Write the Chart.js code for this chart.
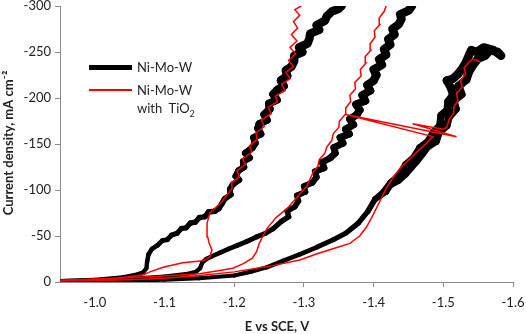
<!DOCTYPE html>
<html>
<head>
<meta charset="utf-8">
<script src="https://cdn.jsdelivr.net/npm/chart.js@4.4.0/dist/chart.umd.min.js"></script>
<style>
  html, body { margin: 0; padding: 0; background: #fff; }
  #wrap { position: relative; width: 526px; height: 334px; }
  .lg-line { position: absolute; left: 89px; width: 43px; }
  .lg-text { position: absolute; left: 137px; font: 13px Lato, sans-serif; color: #222; line-height: 16px; white-space: nowrap; }
</style>
</head>
<body>
<div id="wrap">
  <canvas id="chart" width="526" height="334"></canvas>
  <div class="lg-line" style="top:65px; height:5px; background:#000"></div>
  <div class="lg-text" style="top:59px">Ni-Mo-W</div>
  <div class="lg-line" style="top:89px; height:2px; background:#ff0000"></div>
  <div class="lg-text" style="top:82px">Ni-Mo-W</div>
  <div class="lg-text" style="top:100px">with&nbsp; TiO<sub style="font-size:9px">2</sub></div>
</div>
<script>
// --- DATI ---
// potential E (V vs SCE) and current density J (mA cm-2), one pair of arrays per sweep

// Ni-Mo-W (black)
const blackE1 = [-0.950, -1.000, -1.040, -1.060, -1.070, -1.074, -1.075, -1.077, -1.082, -1.090,
  -1.097, -1.104, -1.110, -1.118, -1.124, -1.131, -1.137, -1.144, -1.150, -1.158,
  -1.163, -1.172, -1.178, -1.183,
  -1.186, -1.195, -1.194, -1.198, -1.207, -1.202, -1.206, -1.214, -1.213, -1.222,
  -1.216, -1.226, -1.230, -1.228, -1.238, -1.234, -1.236, -1.247, -1.243, -1.251,
  -1.250, -1.261, -1.256, -1.262, -1.271, -1.267, -1.276, -1.274, -1.282, -1.286,
  -1.286, -1.298, -1.293, -1.305, -1.308, -1.309, -1.322, -1.318, -1.330, -1.333,
  -1.340, -1.350, -1.354];
const blackJ1 = [-1, -2.5, -5, -8, -11, -15, -22, -30, -36, -40,
  -45, -46, -51, -53, -58, -59, -64, -65, -70, -71,
  -76, -77, -80, -86,
  -90, -95, -101, -106, -111, -115, -121, -125, -131, -135,
  -140, -146, -151, -157, -161, -167, -172, -176, -182, -188,
  -194, -198, -204, -209, -213, -219, -224, -230, -234, -240,
  -246, -250, -255, -259, -265, -270, -274, -279, -284, -289,
  -294, -297, -300];

const blackE2 = [-0.950, -1.000, -1.050, -1.100, -1.130, -1.145, -1.151, -1.154, -1.160, -1.168,
  -1.180, -1.192, -1.205, -1.218, -1.232, -1.245, -1.256,
  -1.268, -1.278, -1.276, -1.287, -1.292, -1.290, -1.302, -1.300, -1.312, -1.318,
  -1.316, -1.329, -1.326, -1.338, -1.345, -1.343, -1.356, -1.352, -1.365, -1.360,
  -1.371, -1.366, -1.376, -1.380, -1.375, -1.388, -1.384, -1.395, -1.391, -1.400,
  -1.404, -1.400, -1.412, -1.408, -1.418, -1.415, -1.424, -1.421, -1.430, -1.427,
  -1.436, -1.440, -1.438, -1.450, -1.455];
const blackJ2 = [-1, -2, -3.5, -6, -8.5, -11, -15, -21, -25, -28,
  -32, -36, -40, -44, -49, -53, -58,
  -66, -71, -77, -82, -88, -94, -98, -104, -108, -114,
  -120, -124, -130, -135, -140, -146, -151, -157, -161, -166,
  -171, -177, -182, -187, -193, -197, -203, -208, -214, -219,
  -225, -231, -236, -242, -247, -253, -258, -264, -269, -275,
  -280, -286, -291, -295, -300];

const blackE3 = [-0.950, -1.000, -1.050, -1.100, -1.150, -1.200, -1.223, -1.247, -1.270, -1.294,
  -1.319, -1.342, -1.360, -1.378, -1.392, -1.402,
  -1.418, -1.424, -1.436, -1.446, -1.454, -1.462, -1.470, -1.478, -1.490, -1.494,
  -1.505, -1.508, -1.518, -1.515, -1.526, -1.522, -1.533, -1.537, -1.543, -1.550,
  -1.560, -1.567, -1.578, -1.583,
  -1.572, -1.558, -1.548, -1.540, -1.532, -1.527, -1.521, -1.514, -1.505, -1.511,
  -1.514, -1.507, -1.506, -1.497, -1.495, -1.485, -1.478, -1.466, -1.458, -1.446,
  -1.436, -1.424, -1.414, -1.402];
const blackJ3 = [-0.5, -1, -1.5, -2.5, -4, -7, -11, -16, -23, -30,
  -38, -46, -53, -64, -77, -90,
  -98, -105, -110, -117, -124, -131, -139, -147, -153, -162,
  -170, -179, -188, -197, -204, -213, -220, -229, -236, -243,
  -246, -252, -250, -246,
  -252, -255, -250, -252, -238, -232, -226, -221, -219, -211,
  -203, -196, -187, -181, -170, -162, -153, -146, -136, -128,
  -116, -108, -98, -90];

// Ni-Mo-W with TiO2 (red)
const redE1 = [-0.950, -1.000, -1.032, -1.069, -1.079, -1.098, -1.126, -1.155, -1.165, -1.168,
  -1.164, -1.162, -1.161, -1.161, -1.165, -1.175, -1.183, -1.190,
  -1.197, -1.196, -1.207, -1.204, -1.216, -1.212, -1.225, -1.222, -1.233, -1.231,
  -1.243, -1.239, -1.253, -1.249, -1.262, -1.259, -1.273, -1.268, -1.280, -1.274,
  -1.285, -1.278, -1.288, -1.280, -1.290, -1.282, -1.291, -1.285, -1.294, -1.287, -1.296];
const redJ1 = [-1.5, -3, -4, -7.5, -11, -16, -21, -23, -27, -35,
  -42, -49, -57, -64, -75, -82, -88, -95,
  -102, -108, -114, -121, -128, -134, -141, -148, -155, -162,
  -169, -176, -183, -190, -196, -202, -208, -215, -221, -228,
  -234, -241, -248, -255, -262, -269, -276, -283, -290, -296, -300];

const redE2 = [-0.950, -1.000, -1.050, -1.100, -1.150, -1.175, -1.198, -1.213, -1.226, -1.232,
  -1.236, -1.241, -1.247, -1.260, -1.276, -1.290, -1.304, -1.313,
  -1.320, -1.322, -1.330, -1.333, -1.340, -1.342, -1.350, -1.351, -1.359, -1.360,
  -1.367, -1.366, -1.374, -1.373, -1.382, -1.381, -1.389, -1.388, -1.396, -1.395,
  -1.402, -1.401, -1.409, -1.408, -1.415, -1.418];
const redJ2 = [-2, -3, -4.5, -6.5, -9, -12, -15, -20, -26, -33,
  -42, -50, -58, -70, -80, -92, -104, -119,
  -126, -133, -140, -147, -154, -161, -168, -175, -182, -189,
  -196, -203, -210, -217, -224, -231, -238, -245, -252, -259,
  -266, -273, -280, -287, -294, -300];

const redE3 = [-0.950, -1.000, -1.050, -1.100, -1.150, -1.200, -1.250, -1.294, -1.320, -1.345,
  -1.366, -1.380, -1.390, -1.400, -1.409, -1.419, -1.430, -1.441, -1.452, -1.463,
  -1.473, -1.485, -1.360, -1.519, -1.456, -1.500, -1.505, -1.508, -1.514, -1.515,
  -1.521, -1.519, -1.527, -1.525, -1.532, -1.530, -1.537, -1.542, -1.548, -1.553];
const redJ3 = [-1, -1.5, -2.5, -4, -7, -11, -17, -24, -31, -37,
  -42, -50, -60, -74, -88, -103, -116, -126, -134, -142,
  -149, -158, -182, -158, -172, -166, -168, -176, -183, -190,
  -197, -205, -212, -219, -226, -233, -239, -242, -241, -239];

const xTicks = [-1.0, -1.1, -1.2, -1.3, -1.4, -1.5, -1.6];
const yTicks = [0, -50, -100, -150, -200, -250, -300];


// unisce E e J in punti {x, y}
function toPoints(E, J) {
  return E.map((e, i) => ({ x: e, y: J[i] }));
}

// the black trace gets visibly noisier (wider) as the current grows
function blackWidth(ctx) {
  const j = Math.abs((ctx.p0.parsed.y + ctx.p1.parsed.y) / 2);
  return 4 + Math.min(4.5, j / 50);
}

function blackSet(E, J) {
  return {
    label: "Ni-Mo-W",
    data: toPoints(E, J),
    borderColor: "#000",
    borderWidth: 4,
    segment: { borderWidth: blackWidth },
    borderJoinStyle: "round",
    borderCapStyle: "round",
    order: 2
  };
}

function redSet(E, J) {
  return {
    label: "Ni-Mo-W with TiO2",
    data: toPoints(E, J),
    borderColor: "#ff0000",
    borderWidth: 1.5,
    order: 1
  };
}

// --- TITOLI DEGLI ASSI ---
const axisTitles = {
  id: "axisTitles",
  afterDraw(chart) {
    const c = chart.ctx;
    c.save();
    c.fillStyle = "#222";
    c.font = "bold 13px Lato, sans-serif";
    c.textAlign = "center";
    c.textBaseline = "middle";
    c.fillText("E vs SCE, V", 277, 327);
    c.translate(9, 143);
    c.rotate(-Math.PI / 2);
    c.fillText("Current density, mA cm\u207B\u00B2", 0, 0);
    c.restore();
  }
};

const tickFont = { family: "Lato, sans-serif", size: 13 };

new Chart(document.getElementById("chart"), {
  type: "scatter",
  data: {
    datasets: [
      blackSet(blackE1, blackJ1),
      blackSet(blackE2, blackJ2),
      blackSet(blackE3, blackJ3),
      redSet(redE1, redJ1),
      redSet(redE2, redJ2),
      redSet(redE3, redJ3)
    ]
  },
  options: {
    responsive: false,
    animation: false,
    devicePixelRatio: 1,
    showLine: true,
    elements: { point: { radius: 0 }, line: { tension: 0 } },
    layout: { padding: { left: 0, right: 13, top: 6, bottom: 0 } },
    plugins: { legend: { display: false }, tooltip: { enabled: false } },
    scales: {
      x: {
        type: "linear",
        reverse: true,
        min: -1.6,
        max: -0.95,
        afterBuildTicks: axis => { axis.ticks = xTicks.map(v => ({ value: v })); },
        afterFit: axis => { axis.height = 52; axis.paddingLeft = 0; axis.paddingRight = 0; },
        border: { color: "#8c8c8c", width: 1 },
        grid: {
          drawOnChartArea: false,
          tickLength: 5,
          color: ctx => (ctx.tick && ctx.tick.value > -1.15 ? "rgba(0,0,0,0)" : "#8c8c8c")
        },
        ticks: { color: "#222", font: tickFont, padding: 8, maxRotation: 0, callback: v => v.toFixed(1) }
      },
      y: {
        type: "linear",
        reverse: true,
        min: -300,
        max: 0,
        afterBuildTicks: axis => { axis.ticks = yTicks.map(v => ({ value: v })); },
        afterFit: axis => { axis.width = 60; axis.paddingTop = 0; axis.paddingBottom = 0; },
        border: { color: "#8c8c8c", width: 1 },
        grid: { drawOnChartArea: false, tickLength: 5, color: "#8c8c8c" },
        ticks: { color: "#222", font: tickFont, padding: 4, callback: v => String(v) }
      }
    }
  },
  plugins: [axisTitles]
});
</script>
</body>
</html>
